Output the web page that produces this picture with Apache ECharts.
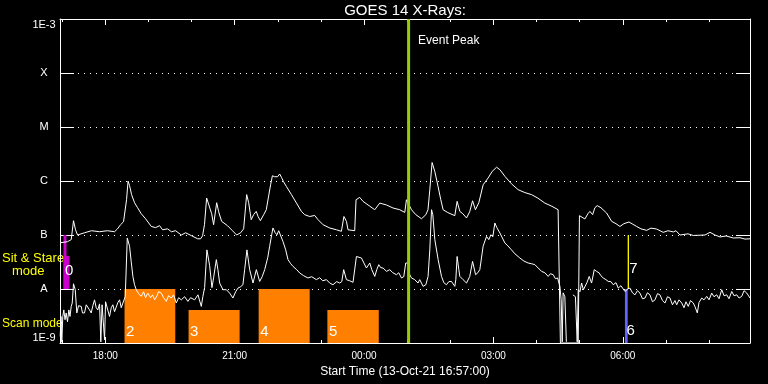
<!DOCTYPE html>
<html><head><meta charset="utf-8">
<script src="https://cdn.jsdelivr.net/npm/echarts@6/dist/echarts.min.js"></script>
<style>html,body{margin:0;padding:0;background:#000;} #c{width:768px;height:384px;}</style>
</head><body><div id="c"></div>
<script>
// ---- DATA (minutes after start 13-Oct-21 16:57:00, flux W/m^2) ----
const yTickLabels = ['1E-9', 'A', 'B', 'C', 'M', 'X', '1E-3'];
const xMajorMinutes = [63, 243, 423, 603, 783];
const xMajorLabels = ['18:00', '21:00', '00:00', '03:00', '06:00'];
const xHourMinutes = [3, 63, 123, 183, 243, 303, 363, 423, 483, 543, 603, 663, 723, 783, 843, 903];

const longChannel = [
[0.3,7.2e-8],[10.4,7.5e-8],[15.6,8.2e-8],[18.8,1.84e-7],[21.6,1.25e-7],[24.4,1.0e-7],[34.1,1.1e-7],[43.9,1.2e-7],
[55,1.15e-7],[66,1.2e-7],[75.9,1.15e-7],[80,1.3e-7],[84.2,1.55e-7],[88.4,1.76e-7],[90.5,1.8e-7],[92.6,4.5e-7],
[94.7,1.0e-6],[96.8,8.2e-7],[99.6,5.6e-7],[103.7,3.96e-7],[107.9,3.2e-7],[113,2.48e-7],[119,2.0e-7],[127,1.44e-7],
[133,1.37e-7],[138.5,1.49e-7],[142.7,1.25e-7],[149.7,1.3e-7],[155,1.15e-7],[160.8,1.2e-7],[168.8,1.0e-7],[174.8,1.1e-7],
[183,9.7e-8],[191.5,8.5e-8],[195.6,8.5e-8],[198.4,9.7e-8],[201,1.55e-7],[204,4.85e-7],[208,3.3e-7],[211,2.48e-7],
[213.7,1.55e-7],[218,3.96e-7],[220.7,2.7e-7],[224.9,1.79e-7],[233,1.49e-7],[240,1.2e-7],[245.8,1.0e-7],[251.3,1.1e-7],
[255.5,1.3e-7],[259.7,5.6e-7],[262.5,3.96e-7],[266,1.92e-7],[269.4,2.38e-7],[273,2.74e-7],[275.7,2.18e-7],[278.8,1.84e-7],
[283.4,2.38e-7],[287,2.94e-7],[290.3,5.3e-7],[293,8.5e-7],[295.5,1.25e-6],[298.7,1.2e-6],[302.8,1.2e-6],[305.6,1.35e-6],
[308.4,1.15e-6],[311,9.7e-7],[315,7.9e-7],[322,5.6e-7],[329,3.9e-7],[335.8,2.74e-7],[340.4,2.38e-7],[347.4,2.2e-7],
[354.4,2.3e-7],[359,1.92e-7],[366,1.55e-7],[375.2,1.35e-7],[384.6,1.25e-7],[391.5,1.17e-7],[395,2.2e-7],[398.5,1.79e-7],
[400.7,1.25e-7],[410,1.2e-7],[411.9,4.5e-7],[417,4.97e-7],[421.6,4.2e-7],[428.6,3.6e-7],[437.9,2.94e-7],[444.9,3.9e-7],
[454.2,3.6e-7],[463.4,3.16e-7],[472.7,2.94e-7],[479.7,2.62e-7],[482,4.5e-7],[484.3,4.5e-7],[489,2.94e-7],[495,2.38e-7],
[503,2.0e-7],[509,2.38e-7],[512,2.94e-7],[514.5,6.9e-7],[517.7,2.2e-6],[521.5,1.49e-6],[526,7.9e-7],[529.8,4.5e-7],
[533,2.94e-7],[539.6,2.6e-7],[549.3,2.28e-7],[552.5,4.2e-7],[556.3,2.74e-7],[560.4,2.48e-7],[565.6,2.07e-7],[570,2.7e-7],
[574,4.3e-7],[578,2.94e-7],[582.7,3.96e-7],[588.7,8.5e-7],[595.7,1.14e-6],[601.2,1.5e-6],[607.4,1.8e-6],[612,1.62e-6],
[619,1.22e-6],[628,8.9e-7],[637.4,6.9e-7],[646.8,6.1e-7],[656,5.6e-7],[665,4.8e-7],[674.6,3.9e-7],[684.4,3.4e-7],
[693,2.94e-7],[694.8,2.8e-7],[696.2,1.0e-9],[721,1.0e-9],[722.7,2.28e-7],[724.7,2.1e-7],[730.3,1.98e-7],[734.5,2.48e-7],
[737.3,2.74e-7],[741,2.38e-7],[744.2,3.2e-7],[747.4,3.5e-7],[752.6,3.2e-7],[760.5,2.55e-7],[767.5,1.79e-7],[773.5,1.62e-7],
[779,1.44e-7],[784.6,1.62e-7],[791.6,1.74e-7],[797.1,1.58e-7],[802.3,1.44e-7],[808.3,1.3e-7],[816.2,1.22e-7],[822.2,1.34e-7],
[830.1,1.29e-7],[839.3,1.12e-7],[845.9,1.2e-7],[853.3,1.14e-7],[857,1.2e-7],[862.6,1.0e-7],[873.7,1.05e-7],[881.1,9.8e-8],
[897.4,1.0e-7],[904.4,1.12e-7],[911.3,1.0e-7],[918.3,9.2e-8],[926.7,9.6e-8],[936.8,8.8e-8],[946.1,8.9e-8],[953.1,8.4e-8],
[960,8.5e-8]
];

const shortChannel = [
[0.3,1.32e-9],[1.4,3.1e-9],[2.5,1.03e-9],[3.9,3.1e-9],[5.3,4.1e-9],[7,2.7e-9],[8.6,3.6e-9],[10.4,2.48e-9],
[12.3,4.1e-9],[13.9,3.1e-9],[15.6,4.76e-9],[17,5.5e-9],[18.8,1.25e-8],[21.2,9.7e-9],[23.4,3.6e-9],[25.8,4.9e-9],
[29.5,4.76e-9],[31.3,3.6e-9],[34.1,3.6e-9],[36.5,5.1e-9],[38.7,5.5e-9],[41.1,4.1e-9],[43.4,3.6e-9],[45.7,4.9e-9],
[48,6.3e-9],[50.4,4.5e-9],[52.6,4.1e-9],[55,5.3e-9],[56.8,1.05e-9],[58.5,5.1e-9],[59.6,4.76e-9],[62,1.15e-9],
[63.4,5.8e-9],[65.2,6.3e-9],[68.9,3.1e-9],[71.3,4.5e-9],[73.5,5.1e-9],[75.9,3.8e-9],[78.3,4.1e-9],[80.5,5.6e-9],
[82.9,6.3e-9],[85.2,4.5e-9],[87.4,4.76e-9],[90.8,7.3e-9],[93.6,8.8e-8],[96.8,6.2e-8],[99.1,3.2e-8],[101.4,1.71e-8],
[103.7,1.2e-8],[106.1,9.7e-9],[109.3,8.2e-9],[113,7.3e-9],[116.3,8.9e-9],[119,6.9e-9],[122.2,8.4e-9],[126,6.9e-9],
[128.8,7.8e-9],[131.6,6.3e-9],[135,7.5e-9],[137.1,8.9e-9],[140.9,8.4e-9],[144.1,6.9e-9],[147.9,5.9e-9],[151,7.5e-9],
[154.8,6.8e-9],[158,7.8e-9],[161.8,5.5e-9],[165,6.9e-9],[168.8,6.3e-9],[173.4,7.2e-9],[178,5.9e-9],[181.7,6.9e-9],
[187.3,6.3e-9],[191.9,7.8e-9],[196.6,4.76e-9],[198.8,7.3e-9],[201.2,1.06e-8],[204.4,5.3e-8],[208.2,2.7e-8],[211.4,1.06e-8],
[213.7,1.62e-8],[217.5,3.5e-8],[219.7,2.28e-8],[222.1,1.29e-8],[226.7,9.7e-9],[231.4,9.7e-9],[236,8.4e-9],[240.6,6.8e-9],
[244.4,8.9e-9],[247.6,1.04e-8],[251.3,1.1e-8],[254.5,1.2e-8],[256.9,2.28e-8],[260.1,5.3e-8],[263.9,2.28e-8],[268.5,1.29e-8],
[273.2,2.28e-8],[277.8,1.38e-8],[281.3,1.69e-8],[284.8,2.28e-8],[289,3.8e-8],[291.7,6.2e-8],[294.5,1.01e-7],[296.3,1.35e-7],
[299.4,1.1e-7],[301.9,1.01e-7],[304.3,1.2e-7],[305.6,1.17e-7],[310.2,7.6e-8],[314,5.3e-8],[317.2,3.5e-8],[321,2.94e-8],
[324.2,2.62e-8],[329.3,2.28e-8],[333.5,1.98e-8],[339,1.76e-8],[345,1.6e-8],[350.2,1.69e-8],[356.7,1.49e-8],[361.3,1.62e-8],
[365.5,1.42e-8],[370.7,1.49e-8],[375.2,1.29e-8],[379.8,1.2e-8],[385,1.37e-8],[389.2,1.29e-8],[392,1.37e-8],[394.7,2.28e-8],
[398.5,1.49e-8],[403.1,1.42e-8],[407.7,1.33e-8],[410,1.37e-8],[412.4,4.0e-8],[415,3.8e-8],[419.4,3.75e-8],[421.6,3.5e-8],
[426.3,2.45e-8],[431,3.03e-8],[433.8,2.28e-8],[437.9,1.71e-8],[440.7,2.28e-8],[443.5,2.82e-8],[446.3,2.48e-8],[449.5,2.45e-8],
[454.2,2.12e-8],[458.8,2.28e-8],[463,2.0e-8],[468.1,1.84e-8],[471.3,2.0e-8],[475.1,1.6e-8],[478.3,1.69e-8],[481,3.03e-8],
[484.3,3.03e-8],[486.6,1.84e-8],[489,1.6e-8],[493.5,1.49e-8],[498.1,1.29e-8],[500.5,1.49e-8],[505.2,1.12e-8],[509,1.2e-8],
[512.1,1.71e-8],[514.5,5.3e-8],[516.9,2.94e-7],[518.7,2.38e-7],[521.5,8.2e-8],[526.1,3.5e-8],[530.8,1.71e-8],[534,1.31e-8],
[537.7,1.2e-8],[541,1.37e-8],[544.6,1.38e-8],[549.3,1.12e-8],[550.7,1.49e-8],[552.5,4.0e-8],[554.9,2.28e-8],[556.3,1.71e-8],
[560.8,1.49e-8],[565.6,1.29e-8],[570.1,1.71e-8],[574,3.24e-8],[578.2,1.84e-8],[581.3,2.0e-8],[584.1,2.28e-8],[588.7,6.2e-8],
[593.4,9.4e-8],[596.6,8.2e-8],[599.4,1.01e-7],[602.2,9.3e-8],[605,1.67e-7],[607.8,1.37e-7],[612,1.09e-7],[619,7.1e-8],
[623.1,6.3e-8],[628.2,5.3e-8],[632.8,4.5e-8],[639.8,3.75e-8],[645.4,3.3e-8],[651.3,3.03e-8],[656,2.94e-8],[660.7,2.82e-8],
[665.3,2.45e-8],[670,2.12e-8],[674.6,2.0e-8],[679.2,1.71e-8],[682.3,1.92e-8],[686.2,1.84e-8],[689.2,1.55e-8],[692.3,1.6e-8],
[695.5,1.12e-8],[697.3,6.3e-9],[698.7,1.05e-9],[700,8.5e-9],[702.4,7.2e-9],[704.5,1.05e-9],[709,null],
[713.6,7.8e-9],[717.1,7.2e-9],[719.6,1.05e-9],[721,9.7e-9],[723.4,8.9e-9],[725.7,1.29e-8],[728.2,9.7e-9],[730.3,1.04e-8],
[733.1,1.31e-8],[736.3,1.71e-8],[739.6,1.29e-8],[743.3,2.28e-8],[746.6,2.12e-8],[750.2,1.98e-8],[752.6,1.76e-8],[755.8,1.6e-8],
[759.6,1.49e-8],[762.8,1.38e-8],[766.5,1.37e-8],[769.7,1.2e-8],[773.5,1.31e-8],[776.7,1.04e-8],[780.4,1.15e-8],[786,9.0e-9],
[790.2,1.01e-8],[793,1.04e-8],[796.5,8.5e-9],[799.9,7.8e-9],[803.4,9.3e-9],[806.9,8.4e-9],[810.4,6.6e-9],[813.9,6.8e-9],
[817.3,8.5e-9],[820.8,7.8e-9],[824.3,5.8e-9],[827.8,6.3e-9],[831.3,8.2e-9],[834.7,7.8e-9],[838.2,6.1e-9],[841.7,5.5e-9],
[845.2,7.2e-9],[848.7,6.8e-9],[852.1,5.1e-9],[855.6,6.1e-9],[858,5.1e-9],[861.2,6.3e-9],[865,5.5e-9],[868.2,4.5e-9],
[870.9,5.8e-9],[874.1,4.76e-9],[877.2,6.1e-9],[881.1,5.5e-9],[883.5,4.7e-9],[886.7,3.6e-9],[889,5.6e-9],[892.8,6.8e-9],
[896,6.3e-9],[899.8,7.3e-9],[903,6.3e-9],[906.7,8.4e-9],[909.9,7.2e-9],[913.7,7.8e-9],[916.9,6.6e-9],[920.7,9.7e-9],
[923.9,7.5e-9],[927.6,7.8e-9],[930.8,6.6e-9],[934.6,9.0e-9],[937.8,7.5e-9],[941.5,7.8e-9],[944.8,6.8e-9],[948.5,7.3e-9],
[951.7,9.3e-9],[955.5,8.4e-9],[960,6.8e-9]
];

// Scan-mode boxes (orange)
const scanStart = [89.8, 178.9, 276.4, 372.0];
const scanEnd = [160.4, 249.9, 347.4, 443.5];
const scanLow = [1e-9, 1e-9, 1e-9, 1e-9];
const scanHigh = [1e-8, 4.1e-9, 1e-8, 4.1e-9];
const scanLabels = ['2', '3', '4', '5'];

// Scan marker (blue, #6)
const scanMarkStart = [786.0];
const scanMarkEnd = [789.8];
const scanMarkLow = [1e-9];
const scanMarkHigh = [1e-8];
const scanMarkLabels = ['6'];

// Sit & Stare bars (magenta)
const stareStart = [4.9, 4.9];
const stareEnd = [9.0, 13.2];
const stareLow = [1e-8, 1e-8];
const stareHigh = [1e-7, 4.1e-8];
const stareLabels = ['', '0'];

// Sit & Stare marker (yellow, #7)
const stareMarkStart = [789.8];
const stareMarkEnd = [791.6];
const stareMarkLow = [1e-8];
const stareMarkHigh = [1e-7];
const stareMarkLabels = ['7'];

// Event peak
const eventMinutes = [485];
const eventLabels = ['Event Peak'];

// ---- CHART ----
const FONT = 'Liberation Sans';
const Y_MIN = 1e-9, Y_MAX = 1e-3, X_MIN = 0, X_MAX = 960;
const WHITE = '#ffffff';

function boxSeries(starts, ends, lows, highs, labels, color, labelDy, z) {
  const data = starts.map((s, i) => [s, ends[i], lows[i], highs[i]]);
  return {
    type: 'custom', silent: true, z: z, animation: false,
    data: data,
    encode: { x: [0, 1], y: [2, 3] },
    renderItem: function (params, api) {
      const p0 = api.coord([api.value(0), api.value(3)]);
      const p1 = api.coord([api.value(1), api.value(2)]);
      const children = [{
        type: 'rect',
        shape: { x: p0[0], y: p0[1], width: p1[0] - p0[0], height: p1[1] - p0[1] },
        style: { fill: color }
      }];
      const lab = labels[params.dataIndex];
      if (lab) {
        children.push({
          type: 'text', z2: 10,
          style: {
            text: lab, x: p0[0] + 1.5, y: p1[1] + labelDy, fill: WHITE,
            font: '15px "' + FONT + '"',
            align: 'left', verticalAlign: 'bottom',
            textAlign: 'left', textVerticalAlign: 'bottom'
          }
        });
      }
      return { type: 'group', children: children };
    }
  };
}

function xAxisDef(position, ticks, len, withLine, withLabels) {
  return {
    type: 'value', min: X_MIN, max: X_MAX, position: position,
    axisLine: { show: withLine, onZero: false, lineStyle: { color: WHITE, width: 1 } },
    axisTick: { show: true, inside: true, length: len, customValues: ticks, lineStyle: { color: WHITE, width: 1 } },
    axisLabel: withLabels ? {
      show: true, customValues: xMajorMinutes, color: WHITE, fontSize: 10, fontFamily: FONT, margin: 8,
      formatter: function (v) { const i = xMajorMinutes.indexOf(v); return i >= 0 ? xMajorLabels[i] : ''; }
    } : { show: false },
    splitLine: { show: false },
    name: withLabels ? 'Start Time (13-Oct-21 16:57:00)' : '',
    nameLocation: 'middle', nameGap: 23,
    nameTextStyle: { color: WHITE, fontSize: 12, fontFamily: FONT }
  };
}

const chart = echarts.init(document.getElementById('c'), null, { renderer: 'canvas' });
chart.setOption({
  backgroundColor: '#000000',
  animation: false,
  title: {
    text: 'GOES 14 X-Rays:', left: 405, top: 3, padding: 0, textAlign: 'center',
    textStyle: { color: WHITE, fontSize: 15, fontWeight: 'normal', fontFamily: FONT }
  },
  grid: { left: 60, right: 18, top: 19, bottom: 41, containLabel: false },
  xAxis: [
    xAxisDef('bottom', xMajorMinutes, 6, true, true),
    xAxisDef('bottom', xHourMinutes, 3, false, false),
    xAxisDef('top', xMajorMinutes, 6, true, false),
    xAxisDef('top', xHourMinutes, 3, false, false)
  ],
  yAxis: [
    {
      type: 'log', logBase: 10, min: Y_MIN, max: Y_MAX, position: 'left',
      axisLine: { show: true, onZero: false, lineStyle: { color: WHITE } },
      axisTick: { show: true, inside: true, length: 14, lineStyle: { color: WHITE } },
      axisLabel: {
        color: WHITE, fontSize: 11, fontFamily: FONT, margin: 16, align: 'center',
        showMinLabel: true, showMaxLabel: true,
        verticalAlignMinLabel: 'bottom', verticalAlignMaxLabel: 'top',
        formatter: function (v) { return yTickLabels[Math.round(Math.log10(v)) + 9] || ''; }
      },
      splitLine: { show: true, lineStyle: { color: WHITE, width: 1, type: [1, 5] } }
    },
    {
      type: 'log', logBase: 10, min: Y_MIN, max: Y_MAX, position: 'right',
      axisLine: { show: true, onZero: false, lineStyle: { color: WHITE } },
      axisTick: { show: true, inside: true, length: 14, lineStyle: { color: WHITE } },
      axisLabel: { show: false },
      splitLine: { show: false }
    }
  ],
  graphic: [
    { type: 'text', x: 2, y: 258, style: { text: 'Sit & Stare', fill: '#ffff00', font: '13px "' + FONT + '"', verticalAlign: 'middle', textVerticalAlign: 'middle' } },
    { type: 'text', x: 12, y: 271, style: { text: 'mode', fill: '#ffff00', font: '13px "' + FONT + '"', verticalAlign: 'middle', textVerticalAlign: 'middle' } },
    { type: 'text', x: 2, y: 324, style: { text: 'Scan mode', fill: '#ffff00', font: '12px "' + FONT + '"', verticalAlign: 'middle', textVerticalAlign: 'middle' } }
  ],
  series: [
    boxSeries(scanStart, scanEnd, scanLow, scanHigh, scanLabels, '#ff8000', -4, 1),
    boxSeries(scanMarkStart, scanMarkEnd, scanMarkLow, scanMarkHigh, scanMarkLabels, '#6464ff', -5, 1),
    boxSeries(stareStart, stareEnd, stareLow, stareHigh, stareLabels, '#cc00cc', -11, 1),
    boxSeries(stareMarkStart, stareMarkEnd, stareMarkLow, stareMarkHigh, stareMarkLabels, '#ffff00', -13, 1),
    {
      type: 'line', data: longChannel, symbol: 'none', showSymbol: false, connectNulls: false,
      lineStyle: { color: WHITE, width: 1 }, z: 3, silent: true
    },
    {
      type: 'line', data: shortChannel, symbol: 'none', showSymbol: false, connectNulls: false,
      lineStyle: { color: WHITE, width: 1 }, z: 3, silent: true
    },
    {
      type: 'custom', z: 5, silent: true,
      data: eventMinutes.map(m => [m, Y_MAX]),
      encode: { x: 0, y: 1 },
      renderItem: function (params, api) {
        const top = api.coord([api.value(0), Y_MAX]);
        const bot = api.coord([api.value(0), Y_MIN]);
        return {
          type: 'group', children: [
            { type: 'line', shape: { x1: top[0], y1: top[1], x2: bot[0], y2: bot[1] }, style: { stroke: '#99cc00', lineWidth: 3 } },
            { type: 'text', style: { text: eventLabels[params.dataIndex], x: top[0] + 9.5, y: top[1] + 28, fill: WHITE,
              font: '12px "' + FONT + '"', align: 'left', verticalAlign: 'bottom', textAlign: 'left', textVerticalAlign: 'bottom' } }
          ]
        };
      }
    }
  ]
});
</script>
</body></html>
